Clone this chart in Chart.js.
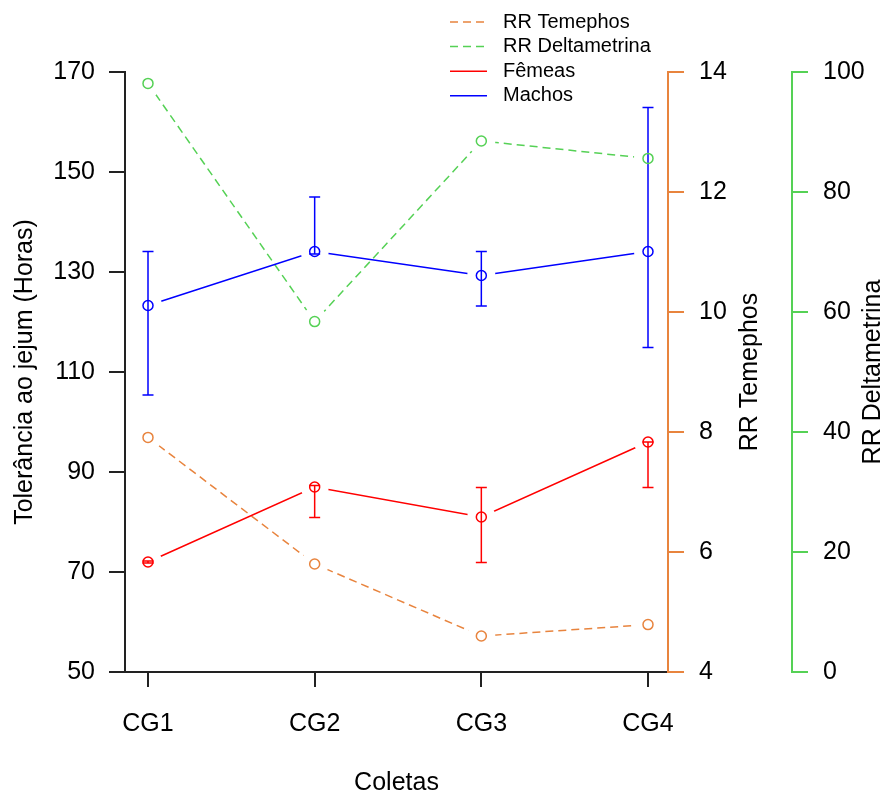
<!DOCTYPE html>
<html lang="pt-BR">
<head>
    <meta charset="UTF-8">
    <title>Tolerância ao jejum e RR</title>
    <script src="https://cdn.jsdelivr.net/npm/chart.js@4.4.1/dist/chart.umd.min.js"></script>
    <style>
        html, body {
            margin: 0;
            padding: 0;
            background: #fff;
        }
        #wrap {
            width: 887px;
            height: 795px;
        }
    </style>
</head>
<body>
    <div id="wrap"><canvas id="grafico"></canvas></div>

    <script>
        // coletas e médias por grupo
        const categories = ['CG1', 'CG2', 'CG3', 'CG4'];
        const machos = [123.3, 134.1, 129.3, 134.1];
        const machosMin = [105.4, 133.6, 123.2, 114.9];
        const machosMax = [134.1, 145.0, 134.1, 162.9];
        const femeas = [72.0, 87.0, 81.0, 96.0];
        const femeasMin = [71.8, 80.9, 71.9, 86.9];
        const femeasMax = [72.2, 87.3, 86.9, 96.0];
        const rrTemephos = [7.91, 5.80, 4.60, 4.79];
        const rrDeltametrina = [98.1, 58.4, 88.5, 85.6];

        const LARANJA = '#E8843E';
        const VERDE = '#55D155';
        const FONTE = '"Liberation Sans", Arial, sans-serif';

        const pts = arr => arr.map((v, i) => ({ x: i + 1, y: v }));

        // recorta um espaço em volta de cada ponto (estilo type="b" do R)
        const gapPlugin = {
            id: 'gaps',
            beforeDatasetDraw(chart, args) {
                const ctx = chart.ctx;
                ctx.save();
                ctx.beginPath();
                ctx.rect(0, 0, chart.width, chart.height);
                args.meta.data.forEach(p => {
                    ctx.moveTo(p.x + 14, p.y);
                    ctx.arc(p.x, p.y, 14, 0, Math.PI * 2, true);
                });
                ctx.clip('evenodd');
            },
            afterDatasetDraw(chart) {
                chart.ctx.restore();
            }
        };

        // barras de erro e círculos abertos
        const marcasPlugin = {
            id: 'marcas',
            afterDatasetsDraw(chart) {
                const ctx = chart.ctx;
                chart.data.datasets.forEach((ds, i) => {
                    const meta = chart.getDatasetMeta(i);
                    const escala = chart.scales[ds.yAxisID];
                    ctx.save();
                    ctx.strokeStyle = ds.borderColor;
                    ctx.lineWidth = 1.5;
                    meta.data.forEach((p, j) => {
                        if (ds.errMin) {
                            const y1 = escala.getPixelForValue(ds.errMin[j]);
                            const y2 = escala.getPixelForValue(ds.errMax[j]);
                            ctx.beginPath();
                            ctx.moveTo(p.x, y1);
                            ctx.lineTo(p.x, y2);
                            ctx.moveTo(p.x - 5.5, y1);
                            ctx.lineTo(p.x + 5.5, y1);
                            ctx.moveTo(p.x - 5.5, y2);
                            ctx.lineTo(p.x + 5.5, y2);
                            ctx.stroke();
                        }
                        ctx.beginPath();
                        ctx.arc(p.x, p.y, 5, 0, Math.PI * 2);
                        ctx.stroke();
                    });
                    ctx.restore();
                });
            }
        };

        // legenda e títulos dos eixos
        const textosPlugin = {
            id: 'textos',
            afterDraw(chart) {
                const ctx = chart.ctx;
                const area = chart.chartArea;
                const meio = (area.top + area.bottom) / 2;
                ctx.save();
                ctx.fillStyle = '#000';
                ctx.font = '25px ' + FONTE;
                ctx.textAlign = 'center';
                ctx.textBaseline = 'middle';
                ctx.fillText('Coletas', (area.left + area.right) / 2, 783);

                const vertical = (txt, x) => {
                    ctx.save();
                    ctx.translate(x, meio);
                    ctx.rotate(-Math.PI / 2);
                    ctx.fillText(txt, 0, 0);
                    ctx.restore();
                };
                vertical('Tolerância ao jejum (Horas)', 25);
                vertical('RR Temephos', 750);
                vertical('RR Deltametrina', 873);

                // legenda
                const ordem = [2, 3, 1, 0];
                ctx.font = '20px ' + FONTE;
                ctx.textAlign = 'left';
                ordem.forEach((idx, k) => {
                    const ds = chart.data.datasets[idx];
                    const y = 22 + k * 24.6;
                    ctx.save();
                    ctx.strokeStyle = ds.borderColor;
                    ctx.lineWidth = 1.5;
                    ctx.setLineDash(ds.borderDash || []);
                    ctx.beginPath();
                    ctx.moveTo(450, y);
                    ctx.lineTo(487, y);
                    ctx.stroke();
                    ctx.restore();
                    ctx.fillText(ds.label, 503, y);
                });
                ctx.restore();
            }
        };

        const larguraFixa = w => scale => { scale.width = w; };

        new Chart(document.getElementById('grafico'), {
            type: 'line',
            data: {
                datasets: [
                    {
                        label: 'Machos',
                        data: pts(machos),
                        errMin: machosMin,
                        errMax: machosMax,
                        borderColor: '#0000FF',
                        yAxisID: 'y'
                    },
                    {
                        label: 'Fêmeas',
                        data: pts(femeas),
                        errMin: femeasMin,
                        errMax: femeasMax,
                        borderColor: '#FF0000',
                        yAxisID: 'y'
                    },
                    {
                        label: 'RR Temephos',
                        data: pts(rrTemephos),
                        borderColor: LARANJA,
                        borderDash: [8, 5],
                        yAxisID: 'y2'
                    },
                    {
                        label: 'RR Deltametrina',
                        data: pts(rrDeltametrina),
                        borderColor: VERDE,
                        borderDash: [8, 5],
                        yAxisID: 'y3'
                    }
                ]
            },
            options: {
                responsive: true,
                maintainAspectRatio: false,
                animation: false,
                layout: { padding: { top: 72, left: 0, right: 0, bottom: 0 } },
                elements: {
                    line: { borderWidth: 1.5, tension: 0, fill: false },
                    point: { radius: 0, hoverRadius: 0 }
                },
                plugins: {
                    legend: { display: false },
                    tooltip: { enabled: false }
                },
                scales: {
                    x: {
                        type: 'linear',
                        min: 0.862,
                        max: 4.12,
                        afterBuildTicks: scale => {
                            scale.ticks = categories.map((c, i) => ({ value: i + 1 }));
                        },
                        afterFit: scale => { scale.height = 123; },
                        border: { display: true, color: '#222', width: 2 },
                        grid: { drawOnChartArea: false, drawTicks: true, tickLength: 15, color: '#222', lineWidth: 2 },
                        ticks: {
                            color: '#000',
                            padding: 22,
                            maxRotation: 0,
                            font: { family: FONTE, size: 25 },
                            callback: v => categories[v - 1]
                        }
                    },
                    y: {
                        position: 'left',
                        min: 50,
                        max: 170,
                        afterFit: larguraFixa(125),
                        border: { display: true, color: '#222', width: 2 },
                        grid: { drawOnChartArea: false, tickLength: 16, color: '#222', lineWidth: 2 },
                        ticks: {
                            stepSize: 20,
                            color: '#000',
                            padding: 14,
                            font: { family: FONTE, size: 25 }
                        }
                    },
                    y2: {
                        position: 'right',
                        weight: 0,
                        min: 4,
                        max: 14,
                        afterFit: larguraFixa(124),
                        border: { display: true, color: LARANJA, width: 2 },
                        grid: { drawOnChartArea: false, tickLength: 16, color: LARANJA, lineWidth: 2 },
                        ticks: {
                            stepSize: 2,
                            color: '#000',
                            padding: 15,
                            font: { family: FONTE, size: 25 }
                        }
                    },
                    y3: {
                        position: 'right',
                        weight: 1,
                        min: 0,
                        max: 100,
                        afterFit: larguraFixa(95),
                        border: { display: true, color: VERDE, width: 2 },
                        grid: { drawOnChartArea: false, tickLength: 16, color: VERDE, lineWidth: 2 },
                        ticks: {
                            stepSize: 20,
                            color: '#000',
                            padding: 15,
                            font: { family: FONTE, size: 25 }
                        }
                    }
                }
            },
            plugins: [gapPlugin, marcasPlugin, textosPlugin]
        });
    </script>
</body>
</html>
